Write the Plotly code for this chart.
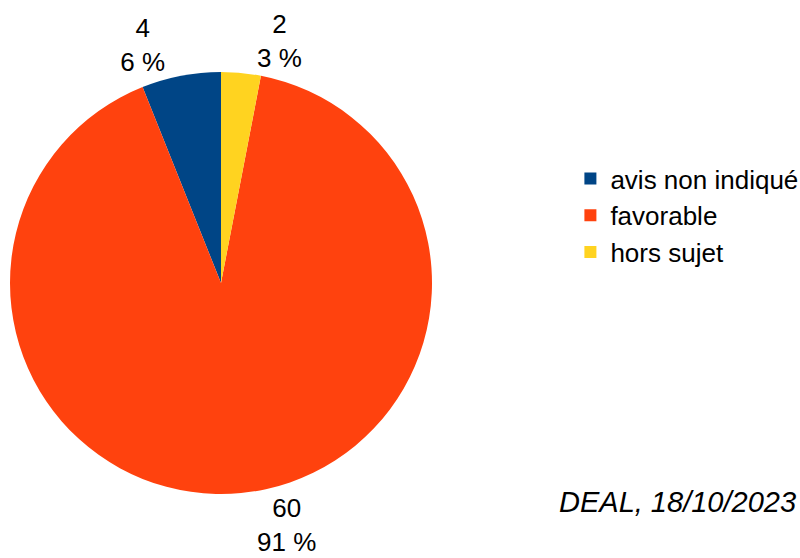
import plotly.graph_objects as go

labels = ["avis non indiqué", "favorable", "hors sujet"]
values = [4, 60, 2]
colors = ["#004586", "#ff420e", "#ffd320"]
source_note = "DEAL, 18/10/2023"

total = sum(values)
pct = [f"{round(v / total * 100)} %" for v in values]
# counterclockwise: the first slice ends at 12 o'clock
start_rotation = -360 * values[0] / total

fig = go.Figure(go.Pie(
    labels=labels,
    values=values,
    customdata=pct,
    texttemplate="%{value}<br>%{customdata}",
    textposition="outside",
    sort=False,
    direction="counterclockwise",
    rotation=start_rotation,
    marker=dict(colors=colors, line=dict(width=0)),
    textfont=dict(family="Liberation Sans", size=26, color="black"),
    domain=dict(x=[0.0125, 0.54], y=[0.0, 0.9857]),
    hole=0,
))

fig.update_layout(
    width=800, height=558,
    margin=dict(l=0, r=0, t=0, b=0, pad=0, autoexpand=False),
    paper_bgcolor="white",
    font=dict(family="Liberation Sans", size=26, color="black"),
    legend=dict(x=0.713, y=0.722, xanchor="left", yanchor="top",
                font=dict(size=26), itemsizing="constant", tracegroupgap=0),
    annotations=[dict(text="<i>" + source_note + "</i>", x=0.997, y=0.1,
                      xref="paper", yref="paper",
                      xanchor="right", yanchor="middle", showarrow=False,
                      font=dict(size=29, family="Liberation Sans", color="black"))],
)

fig.write_html("out.html", config={"displayModeBar": False},
               post_script="document.body.style.margin='0';")
